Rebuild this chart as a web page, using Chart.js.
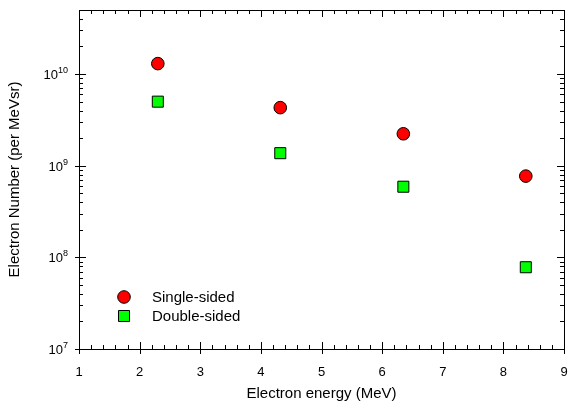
<!DOCTYPE html>
<html>
<head>
<meta charset="utf-8">
<script src="https://cdn.jsdelivr.net/npm/chart.js@4"></script>
<style>
  html, body { margin: 0; padding: 0; background: #fff; }
  #wrap { width: 569px; height: 412px; }
</style>
</head>
<body>
<div id="wrap"><canvas id="chart" width="569" height="412"></canvas></div>
<script>
// values
const energies = [2.3, 4.32, 6.35, 8.37];
const singleSided = [1.3e10, 4.3e9, 2.23e9, 7.7e8];
const doubleSided = [5.0e9, 1.37e9, 5.9e8, 7.8e7];
const seriesNames = ["Single-sided", "Double-sided"];
const xTicks = [1, 2, 3, 4, 5, 6, 7, 8, 9];
const yDecades = [7, 8, 9, 10];

const FONT = "'Liberation Sans', Arial, Helvetica, sans-serif";

const toPoints = (xs, ys) => xs.map((x, i) => ({ x: x, y: ys[i] }));

// frame + inward ticks on all four sides, drawn through the scales
const frameTicks = {
  id: "frameTicks",
  afterDraw(chart) {
    const { ctx, chartArea: a, scales } = chart;
    const xs = scales.x, ys = scales.y;
    ctx.save();
    ctx.strokeStyle = "#000";
    ctx.lineWidth = 1;
    ctx.strokeRect(a.left + 0.5, a.top + 0.5, a.right - a.left, a.bottom - a.top);

    ctx.beginPath();
    // x: major every 1, minor every 0.2
    for (let i = 0; i <= (xs.max - xs.min) * 5; i++) {
      const v = xs.min + i * 0.2;
      const px = Math.round(xs.getPixelForValue(v)) + 0.5;
      const major = i % 5 === 0;
      const inLen = major ? 7 : 4;
      ctx.moveTo(px, a.bottom + (major ? 5 : 0));
      ctx.lineTo(px, a.bottom - inLen);
      ctx.moveTo(px, a.top);
      ctx.lineTo(px, a.top + inLen);
    }
    // y: decades major, 2..9 minor
    for (let e = yDecades[0]; e <= yDecades[yDecades.length - 1]; e++) {
      for (let m = 1; m <= 9; m++) {
        const v = m * Math.pow(10, e);
        if (v < ys.min || v > ys.max) continue;
        const py = Math.round(ys.getPixelForValue(v)) + 0.5;
        const major = m === 1;
        const inLen = major ? 7 : 4;
        ctx.moveTo(a.left - (major ? 4 : 0), py);
        ctx.lineTo(a.left + inLen, py);
        ctx.moveTo(a.right, py);
        ctx.lineTo(a.right - inLen, py);
      }
    }
    ctx.stroke();

    // y labels as 10 with superscript exponent
    ctx.fillStyle = "#000";
    ctx.textBaseline = "alphabetic";
    yDecades.forEach((e) => {
      const py = ys.getPixelForValue(Math.pow(10, e));
      const exp = String(e);
      ctx.font = "9px " + FONT;
      const ew = ctx.measureText(exp).width;
      ctx.textAlign = "right";
      ctx.fillText(exp, 68, py - 1);
      ctx.font = "13px " + FONT;
      ctx.fillText("10", 68 - ew, py + 5);
    });
    ctx.restore();
  },
};

// legend inside the plot, lower left
const insideLegend = {
  id: "insideLegend",
  afterDraw(chart) {
    const { ctx } = chart;
    ctx.save();
    chart.data.datasets.forEach((ds, i) => {
      const y = 297 + i * 19;
      ctx.fillStyle = ds.backgroundColor;
      ctx.strokeStyle = "#000";
      ctx.lineWidth = 1;
      ctx.beginPath();
      if (ds.pointStyle === "circle") {
        ctx.arc(124, y, ds.pointRadius, 0, Math.PI * 2);
      } else {
        const s = ds.pointRadius * Math.SQRT1_2;
        ctx.rect(124 - s, y - s, 2 * s, 2 * s);
      }
      ctx.fill();
      ctx.stroke();
      ctx.fillStyle = "#000";
      ctx.font = "15px " + FONT;
      ctx.textAlign = "left";
      ctx.textBaseline = "middle";
      ctx.fillText(ds.label, 152, y + 1);
    });
    ctx.restore();
  },
};

new Chart(document.getElementById("chart"), {
  type: "scatter",
  data: {
    datasets: [
      {
        label: seriesNames[0],
        data: toPoints(energies, singleSided),
        pointStyle: "circle",
        pointRadius: 6.3,
        backgroundColor: "#ff0000",
        borderColor: "#000",
        borderWidth: 1,
      },
      {
        label: seriesNames[1],
        data: toPoints(energies, doubleSided),
        pointStyle: "rect",
        pointRadius: 7.8,
        backgroundColor: "#00ff00",
        borderColor: "#000",
        borderWidth: 1,
      },
    ],
  },
  options: {
    responsive: false,
    animation: false,
    layout: { autoPadding: false, padding: { top: 10, right: 5, left: 0, bottom: 0 } },
    plugins: { legend: { display: false }, tooltip: { enabled: false } },
    scales: {
      x: {
        type: "linear",
        min: xTicks[0],
        max: xTicks[xTicks.length - 1],
        afterFit: (s) => {
          s.height = 63;
          s.paddingLeft = 0;
          s.paddingRight = 0;
        },
        afterBuildTicks: (s) => { s.ticks = xTicks.map((v) => ({ value: v })); },
        grid: { display: false, drawTicks: false },
        border: { display: false },
        ticks: { color: "#000", padding: 16, font: { family: FONT, size: 13 } },
        title: {
          display: true,
          text: "Electron energy (MeV)",
          color: "#000",
          font: { family: FONT, size: 15 },
          padding: { top: 0, bottom: 9 },
        },
      },
      y: {
        type: "logarithmic",
        min: Math.pow(10, yDecades[0]),
        max: 5e10,
        afterFit: (s) => {
          s.width = 79;
          s.paddingTop = 0;
          s.paddingBottom = 0;
        },
        grid: { display: false, drawTicks: false },
        border: { display: false },
        ticks: { display: false },
        title: {
          display: true,
          text: "Electron Number (per MeVsr)",
          color: "#000",
          font: { family: FONT, size: 15 },
          padding: { top: 6, bottom: 0 },
        },
      },
    },
  },
  plugins: [frameTicks, insideLegend],
});
</script>
</body>
</html>
